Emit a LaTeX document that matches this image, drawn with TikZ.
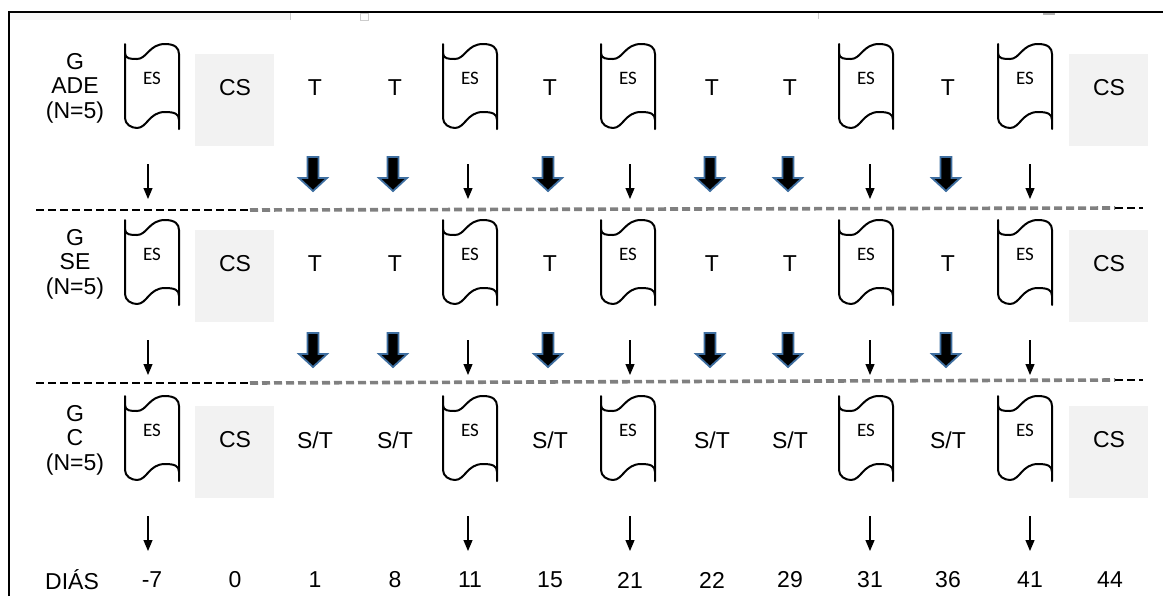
\documentclass[tikz,border=0pt]{standalone}
\usepackage{fontspec}
\setmainfont{Liberation Sans}
\newfontfamily\esfont{Carlito}
\usetikzlibrary{arrows.meta}

\definecolor{arrblue}{RGB}{62,110,160}
\definecolor{csgray}{RGB}{242,242,242}

\tikzset{
  txt/.style={font=\fontsize{11.5}{12.3}\selectfont, inner sep=0pt},
  grp/.style={txt, align=center},
  eslabel/.style={font=\esfont\fontsize{9.5}{10}\selectfont, inner sep=0pt},
  csbox/.style={fill=csgray, draw=none},
  thinarr/.style={line width=0.6pt, -{Triangle[width=4.5pt,length=5.5pt]}},
  sepline/.style={black, line width=0.8pt, dash pattern=on 4pt off 2pt},
  sepgray/.style={gray, line width=1.8pt, dash pattern=on 4pt off 2pt},
  estape/.pic={
    \draw[line width=1pt, line join=round, line cap=round]
      (-27,0) -- (-27,74)
      (-27,9) .. controls (-27,15) and (-21,15) .. (-15,15)
        .. controls (-5,15) and (-3,0) .. (13,0)
        .. controls (23,0) and (27,4) .. (27,10) -- (27,85)
      (-27,74) .. controls (-27,80) and (-21,84) .. (-15,84)
        .. controls (-5,84) and (-3,68) .. (13,68)
        .. controls (23,68) and (27,70) .. (27,76);
  },
  bigarr/.pic={
    \filldraw[draw=arrblue, fill=black, line width=0.9pt, line join=miter]
      (-5.5,0) -- (5.5,0) -- (5.5,21) -- (14,21) -- (0,34) -- (-14,21) -- (-5.5,21) -- cycle;
  },
}

\begin{document}
\begin{tikzpicture}[x=0.5pt, y=-0.5pt]
  \useasboundingbox (0,0) rectangle (1163,596);

  % frame and page marks
  \fill[gray!6] (10,13) rectangle (290,20);
  \draw[gray!40] (290,12) -- (290,20) (360,13) rectangle (368,20) (818,12) -- (818,19);
  \draw[gray!60, line width=1pt] (1043,13.5) -- (1055,13.5);
  \draw[line width=1pt] (9,596) -- (9,12) -- (1163,12);

  % groups
  \foreach \r/\y/\g in {1/88/ADE, 2/264/SE, 3/440/C} {
    \node[grp] (grp\r) at (75,\y) {G\\\g\\(N=5)};
    \foreach \x in {152,470,628,866,1025}
      \pic (es\r\x) at (\x,\y-44) {estape};
    \foreach \x in {152,470,628,866,1025}
      \node[eslabel] (esl\r\x) at (\x,\y-10) {ES};
    \foreach \x in {235,1109} {
      \fill[csbox] (\x-40,\y-34) rectangle (\x+39,\y+58);
      \node[txt] (cs\r\x) at (\x,\y) {CS};
    }
    \foreach \x in {148,468,630,870,1030} {
      \coordinate (as\r\x) at (\x,\y+76);
      \coordinate (ae\r\x) at (\x,\y+111);
      \draw[thinarr] (as\r\x) -- (ae\r\x);
    }
  }

  % treatments
  \foreach \x in {315,395,550,712,790,948} {
    \node[txt] (ta\x) at (\x,88) {T};
    \node[txt] (tb\x) at (\x,264) {T};
    \node[txt] (tc\x) at (\x,440) {S/T};
    \pic (ba\x) at (\x-2,157) {bigarr};
    \pic (bb\x) at (\x-2,333) {bigarr};
  }

  % separators
  \coordinate (l1a) at (36,210);
  \coordinate (l1m) at (250,210);
  \coordinate (l1n) at (1115,208);
  \coordinate (l1b) at (1143,208);
  \coordinate (l2a) at (36,383);
  \coordinate (l2m) at (250,383);
  \coordinate (l2n) at (1115,380);
  \coordinate (l2b) at (1143,380);
  \draw[sepline] (l1a) -- (l1m);
  \draw[sepgray] (l1m) -- (l1n);
  \draw[sepline] (l1n) -- (l1b);
  \draw[sepline] (l2a) -- (l2m);
  \draw[sepgray] (l2m) -- (l2n);
  \draw[sepline] (l2n) -- (l2b);

  % days
  \node[txt] (dias) at (72,580) {DIÁS};
  \foreach \x/\d in {152/-7, 235/0, 315/1, 395/8, 470/11, 550/15, 630/21,
                     712/22, 790/29, 870/31, 948/36, 1030/41, 1110/44}
    \node[txt] (d\x) at (\x,580) {\d};
\end{tikzpicture}
\end{document}
